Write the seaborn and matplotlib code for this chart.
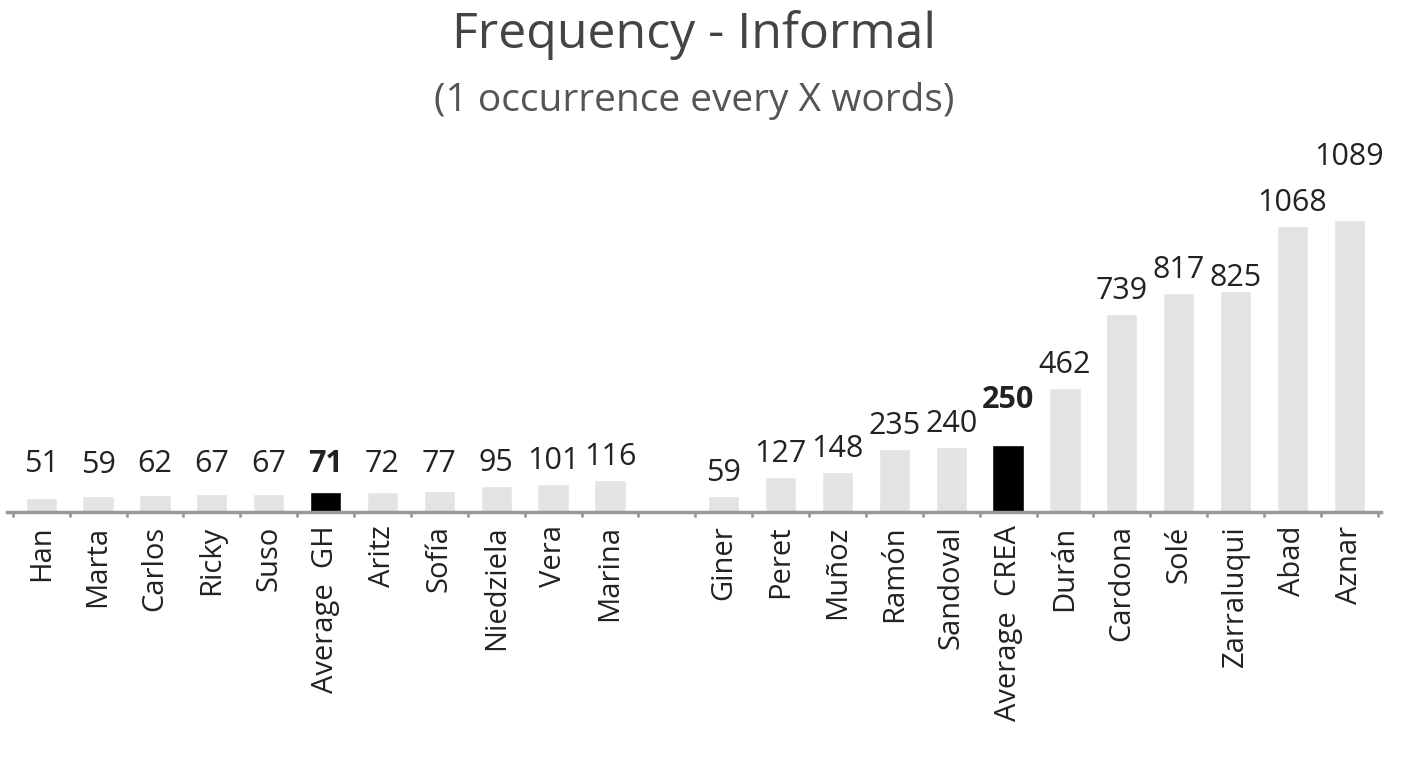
import matplotlib
matplotlib.use("Agg")
import matplotlib.pyplot as plt
import seaborn as sns
import numpy as np
import pandas as pd

categories = ["Han","Marta","Carlos","Ricky","Suso","Average  GH","Aritz","Sofía","Niedziela","Vera","Marina"," ",
              "Giner","Peret","Muñoz","Ramón","Sandoval","Average  CREA","Durán","Cardona","Solé","Zarraluqui","Abad","Aznar"]
values = [51,59,62,67,67,71,72,77,95,101,116,np.nan,59,127,148,235,240,250,462,739,817,825,1068,1089]
averages = ["Average  GH","Average  CREA"]
extra_offset = {"Aznar": 150, "Average  CREA": 80, "Zarraluqui": -40, "Han": 40, "Marta": 30, "Carlos": 30, "Ricky": 25, "Suso": 25,
                "Average  GH": 20, "Aritz": 20, "Sofía": 15}

sns.set_theme(style="white")
plt.rcParams['font.family'] = ['Open Sans', 'DejaVu Sans']

df = pd.DataFrame({"cat": categories, "val": values})
colors = ["black" if c in averages else "#e3e3e3" for c in categories]

fig, ax = plt.subplots(figsize=(14.16, 7.75), dpi=100)
fig.subplots_adjust(left=0.005, right=0.975, top=0.72, bottom=0.34)
sns.barplot(data=df, x="cat", y="val", hue="cat", palette=colors, legend=False, ax=ax, width=0.55)

for i, (c, v) in enumerate(zip(categories, values)):
    if np.isnan(v):
        continue
    bold = c in averages
    ax.text(i, v + 30 + extra_offset.get(c, 0), f"{int(v)}", ha="center", va="bottom", fontsize=22,
            fontweight="bold" if bold else "normal", color="#222222")

ax.set_ylim(0, 1100)
ax.set_xlim(-0.6, len(categories) - 0.45)
ax.set_xlabel("")
ax.set_ylabel("")
ax.set_yticks([])
for s in ["left", "right", "top"]:
    ax.spines[s].set_visible(False)
ax.spines["bottom"].set_color("#999999")
ax.spines["bottom"].set_linewidth(2.5)
ax.set_xticks(range(len(categories)))
ax.set_xticklabels(categories, rotation=90, fontsize=21, color="#222222")
ax.tick_params(axis="x", length=0, pad=10)
for b in np.arange(-0.5, len(categories), 1.0):
    ax.plot([b, b], [0, -18], color="#999999", lw=2, clip_on=False)

fig.text(0.49, 0.955, "Frequency - Informal", ha="center", va="center", fontsize=36, color="#444444")
fig.text(0.49, 0.87, "(1 occurrence every X words)", ha="center", va="center", fontsize=28, color="#555555")

fig.savefig("out.png", dpi=100)
